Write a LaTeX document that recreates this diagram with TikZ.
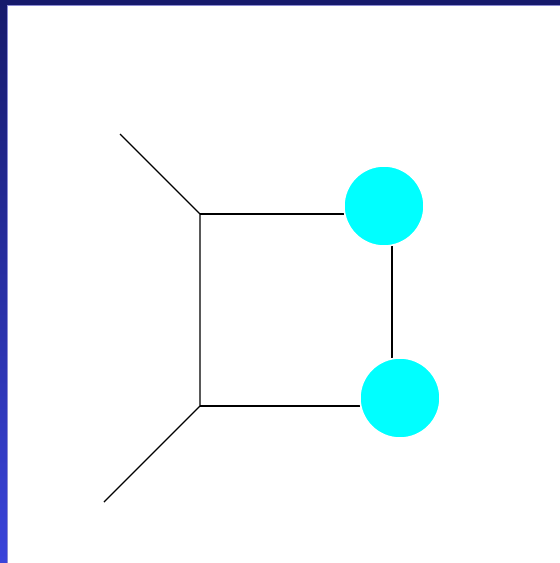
\documentclass[tikz,border=0pt]{standalone}
\usetikzlibrary{positioning}
\definecolor{navy}{RGB}{22,26,108}
\definecolor{frameblue}{RGB}{58,68,218}
\definecolor{frameedge}{RGB}{140,140,212}
\definecolor{aqua}{RGB}{0,255,255}
\begin{document}
\begin{tikzpicture}[x=1pt, y=-1pt,
	atom/.style={circle, minimum size=80pt, inner sep=0pt, fill=aqua, draw=white, line width=1.5pt},
	bond/.style={black, line width=1.4pt}]
	\useasboundingbox (0, 0) rectangle (560, 563);
	\fill[white] (0, 0) rectangle (560, 563);
	% frame
	\shade[top color=navy, bottom color=frameblue] (0, 0) rectangle (7, 563);
	\fill[navy] (0, 0) rectangle (560, 5);
	\fill[frameedge] (7, 5) rectangle (560, 6.2);
	\fill[frameedge] (7, 5) rectangle (8.2, 563);
	
	\coordinate (end-1) at (120, 134);
	\coordinate (c-1) at (200, 214);
	\coordinate (c-2) at (200, 406);
	\coordinate (end-2) at (104, 502);
	\coordinate (c-3) at (392, 214);
	\coordinate (c-4) at (392, 406);
	
	\draw[bond] (end-1) -- (c-1) -- (c-2) -- (end-2);
	\draw[bond] (c-1) -- (c-3) -- (c-4) -- (c-2);
	
	\node[atom] (a-1) at (384, 206) {};
	\node[atom] (a-2) at (400, 398) {};
\end{tikzpicture}
\end{document}
